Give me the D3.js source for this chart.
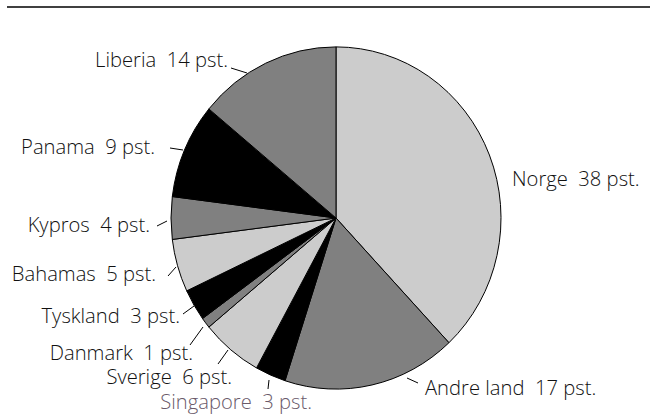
<!DOCTYPE html>
<meta charset="utf-8">
<script src="https://d3js.org/d3.v7.min.js"></script>
<style>
  body { margin: 0; background: #fff; }
  text { font-family: "Open Sans", sans-serif; font-weight: 300; white-space: pre; }
</style>
<div id="my_dataviz"></div>
<script>

  // shares of the fleet, clockwise from 12 o'clock
  var countries = ["Norge", "Andre land", "Singapore", "Sverige", "Danmark",
                   "Tyskland", "Bahamas", "Kypros", "Panama", "Liberia"];
  var shares = [38, 17, 3, 6, 1, 3, 5, 4, 9, 14];
  var fills = ["#cccccc", "#808080", "#000000", "#cccccc", "#808080",
               "#000000", "#cccccc", "#808080", "#000000", "#808080"];

  // label placement (text anchor point + leader line), same order as countries
  var labelLayout = [
    {x: 512, y: 186, anchor: "start", line: null},
    {x: 425, y: 395, anchor: "start", line: [407, 378, 418, 383]},
    {x: 312, y: 409, anchor: "end", line: [268, 389, 269, 380], color: "#6a5a6a"},
    {x: 232, y: 384, anchor: "end", line: [218, 364, 228, 350]},
    {x: 193, y: 360, anchor: "end", line: [190, 345, 203, 327]},
    {x: 180, y: 323, anchor: "end", line: [183, 314, 194, 306]},
    {x: 156, y: 281, anchor: "end", line: [168, 276, 176, 267]},
    {x: 150, y: 232, anchor: "end", line: [157, 226, 167, 221]},
    {x: 155, y: 154, anchor: "end", line: [170, 148, 183, 150]},
    {x: 228, y: 67, anchor: "end", line: [231, 68, 247, 73]}
  ];

  var width = 650, height = 414;
  var cx = 336, cy = 218, r = 165, yStretch = 1.037;

  var svg = d3.select("#my_dataviz")
    .append("svg")
      .attr("width", width)
      .attr("height", height);

  // rule across the top
  svg.append("line")
    .attr("x1", 7).attr("x2", width)
    .attr("y1", 7).attr("y2", 7)
    .attr("stroke", "#000")
    .attr("stroke-width", 1.5);

  var pie = d3.pie().sort(null).value(function(d) { return d; });
  var arc = d3.arc().innerRadius(0).outerRadius(r);

  var g = svg.append("g")
    .attr("transform", "translate(" + cx + "," + cy + ") scale(1," + yStretch + ")");

  g.selectAll("path")
    .data(pie(shares))
    .enter()
    .append("path")
      .attr("d", arc)
      .attr("fill", function(d, i) { return fills[i]; })
      .attr("stroke", "#000")
      .attr("stroke-width", 1)
      .attr("stroke-linejoin", "round")
      .attr("vector-effect", "non-scaling-stroke");

  // leader lines
  svg.selectAll(".leader")
    .data(labelLayout.filter(function(d) { return d.line; }))
    .enter()
    .append("line")
      .attr("class", "leader")
      .attr("x1", function(d) { return d.line[0]; })
      .attr("y1", function(d) { return d.line[1]; })
      .attr("x2", function(d) { return d.line[2]; })
      .attr("y2", function(d) { return d.line[3]; })
      .attr("stroke", "#000")
      .attr("stroke-width", 1);

  // labels
  svg.selectAll(".lbl")
    .data(countries)
    .enter()
    .append("text")
      .attr("class", "lbl")
      .attr("x", function(d, i) { return labelLayout[i].x; })
      .attr("y", function(d, i) { return labelLayout[i].y; })
      .attr("text-anchor", function(d, i) { return labelLayout[i].anchor; })
      .style("font-size", "20.2px")
      .style("fill", function(d, i) { return labelLayout[i].color || "#111"; })
      .text(function(d, i) { return d + "  " + shares[i] + " pst."; });

</script>
